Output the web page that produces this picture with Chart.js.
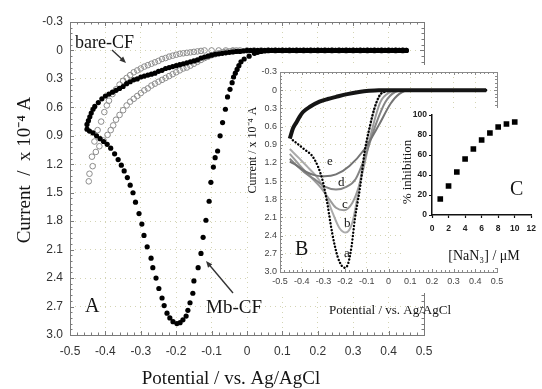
<!doctype html>
<html lang="en">
  <head>
    <meta charset="utf-8">
    <script src="https://cdn.jsdelivr.net/npm/chart.js@4.4.1/dist/chart.umd.min.js"></script>
    <title>Mb-CF voltammetry</title>
    <style>
      body { margin: 0; background: #fff; }
      #wrap { position: relative; width: 542px; height: 389px; }
      canvas { position: absolute; }
    </style>
  </head>
  <body>
    <div id="wrap">
      <canvas id="chartA" width="542" height="389" style="left:0;top:0"></canvas>
      <canvas id="chartB" width="270" height="256" style="left:240px;top:62px"></canvas>
      <canvas id="chartC" width="147" height="168" style="left:395px;top:100px"></canvas>
    </div>

  <script>

    // ---- tick values
    const potTicks = [-0.5, -0.4, -0.3, -0.2, -0.1, 0, 0.1, 0.2, 0.3, 0.4, 0.5];
    const currTicks = [-0.3, 0, 0.3, 0.6, 0.9, 1.2, 1.5, 1.8, 2.1, 2.4, 2.7, 3.0];
    const concTicks = [0, 2, 4, 6, 8, 10, 12];
    const inhibTicks = [0, 20, 40, 60, 80, 100];

    // ---- panel A : Mb-CF cathodic sweep (filled dots)
    const mbPotential = [0.45,0.44,0.43,0.42,0.41,0.40,0.39,0.38,0.37,0.36,0.35,0.34,0.33,0.32,0.31,0.30,0.29,0.28,0.27,0.26,
      0.25,0.24,0.23,0.22,0.21,0.20,0.19,0.18,0.17,0.16,0.15,0.14,0.13,0.12,0.11,0.10,0.09,0.08,0.07,0.06,
      0.05,0.04,0.03,0.021,0.006,-0.008,-0.017,-0.023,-0.028,-0.033,-0.038,-0.042,-0.048,-0.055,-0.061,-0.069,-0.076,-0.083,-0.090,-0.095,
      -0.102,-0.107,-0.116,-0.124,-0.130,-0.138,-0.150,-0.153,-0.161,-0.167,-0.172,-0.181,-0.189,-0.198,-0.209,-0.218,-0.226,-0.234,-0.240,-0.249,
      -0.257,-0.266,-0.271,-0.282,-0.291,-0.297,-0.305,-0.315,-0.322,-0.330,-0.338,-0.347,-0.355,-0.364,-0.374,-0.385,-0.395,-0.405,-0.415,-0.425,
      -0.435,-0.445,-0.452];
    const mbCurrent = [0,0,0,0,0,0,0,0,0,0,0,0,0,0,0,0,0,0,0,0,
      0,0,0,0,0,0,0,0,0,0,0,0,0,0,0,0,0,0,0,0,
      0.005,0.01,0.02,0.03,0.06,0.09,0.12,0.16,0.20,0.24,0.28,0.34,0.41,0.49,0.62,0.76,0.90,1.06,1.13,1.23,
      1.39,1.59,1.79,1.97,2.14,2.29,2.43,2.56,2.66,2.74,2.80,2.84,2.87,2.88,2.86,2.82,2.77,2.69,2.61,2.51,
      2.40,2.29,2.19,2.07,1.95,1.83,1.72,1.60,1.50,1.42,1.34,1.27,1.21,1.15,1.09,1.03,0.99,0.96,0.93,0.90,
      0.87,0.85,0.83];

    // ---- panel A : return sweep (filled dots)
    const mbReturnPotential = [-0.452,-0.448,-0.444,-0.44,-0.435,-0.43,-0.42,-0.41,-0.40,-0.39,-0.38,-0.37,-0.36,-0.35,-0.34,-0.33,-0.32,-0.31,-0.30,-0.29,
      -0.28,-0.27,-0.26,-0.25,-0.24,-0.23,-0.22,-0.21,-0.20,-0.19,-0.18,-0.17,-0.16,-0.15,-0.14,-0.13,-0.12,-0.11,-0.10,-0.09,
      -0.08,-0.07,-0.06,-0.05,-0.04,-0.03,-0.02,-0.01,0,0.01,0.02,0.03,0.04,0.05,0.06,0.07,0.08,0.09,0.10,0.11,
      0.12,0.13,0.14,0.15,0.16,0.17,0.18,0.19,0.20,0.21,0.22,0.23,0.24,0.25,0.26,0.27,0.28,0.29,0.30,0.31,
      0.32,0.33,0.34,0.35,0.36,0.37,0.38,0.39,0.40,0.41,0.42,0.43,0.44,0.45];
    const mbReturnCurrent = [0.78,0.74,0.70,0.66,0.62,0.59,0.55,0.51,0.48,0.46,0.44,0.42,0.40,0.38,0.35,0.33,0.31,0.30,0.28,0.27,
      0.26,0.25,0.24,0.22,0.21,0.19,0.18,0.17,0.16,0.15,0.14,0.13,0.12,0.11,0.10,0.08,0.07,0.06,0.05,0.04,
      0.035,0.03,0.025,0.02,0.015,0.01,0.01,0.005,0,0,0,0,0,0,0,0,0,0,0,0,
      0,0,0,0,0,0,0,0,0,0,0,0,0,0,0,0,0,0,0,0,
      0,0,0,0,0,0,0,0,0,0,0,0,0,0];

    // ---- panel A : bare-CF (open circles), upper trail then lower trail
    const barePotential = [-0.447,-0.445,-0.438,-0.431,-0.422,-0.412,-0.403,-0.396,-0.39,-0.38,-0.37,-0.36,-0.35,-0.34,-0.33,-0.32,-0.31,-0.30,-0.29,-0.28,
      -0.27,-0.26,-0.25,-0.24,-0.23,-0.22,-0.21,-0.20,-0.19,-0.18,-0.17,-0.16,-0.15,-0.14,-0.13,-0.12,-0.10,-0.08,-0.06,-0.04,
      -0.02,0,0.02,0.04,0.06,0.08,0.10,0.12,0.14,0.16,0.18,0.20,0.22,0.24,0.26,0.28,0.30,0.32,0.34,0.36,
      0.38,0.40,0.42,0.44,
      -0.436,-0.427,-0.417,-0.405,-0.394,-0.385,-0.378,-0.37,-0.36,-0.35,-0.34,-0.33,-0.32,-0.31,-0.30,-0.29,-0.28,-0.27,-0.26,-0.25,
      -0.24,-0.23,-0.22,-0.21,-0.20,-0.19,-0.18,-0.17,-0.16,-0.15,-0.14,-0.13,-0.12,-0.11,-0.10,-0.09,-0.08,-0.07,-0.06,-0.05,
      -0.04,-0.03];
    const bareCurrent = [1.38,1.30,1.12,0.96,0.84,0.75,0.65,0.58,0.53,0.46,0.41,0.36,0.32,0.29,0.26,0.23,0.21,0.19,0.17,0.155,
      0.14,0.125,0.11,0.09,0.08,0.065,0.055,0.045,0.035,0.03,0.025,0.02,0.015,0.01,0.005,0,0,0,0,0,
      0,0,0,0,0,0,0,0,0,0,0,0,0,0,0,0,0,0,0,0,
      0,0,0,0,
      1.22,1.07,1.01,0.95,0.89,0.84,0.79,0.73,0.68,0.63,0.58,0.54,0.51,0.48,0.45,0.42,0.40,0.37,0.35,0.33,
      0.31,0.29,0.27,0.25,0.23,0.21,0.19,0.18,0.16,0.14,0.12,0.10,0.08,0.065,0.05,0.04,0.03,0.02,0.015,0.01,
      0.005,0];

    // ---- panel B : cathodic sweeps a-e and the shared return sweep
    const aPotential = [0.45,0.30,0.15,0.05,0.02,-0.01,-0.04,-0.065,-0.085,-0.11,-0.13,-0.155,-0.17,-0.185,-0.20,-0.215,-0.235,-0.26,-0.283,-0.306,-0.343,-0.39,-0.45];
    const aCurrent = [0,0,0,0,0,0.02,0.08,0.30,0.58,1.02,1.58,2.13,2.57,2.85,2.93,2.90,2.74,2.35,1.85,1.46,1.13,0.97,0.80];
    const bPotential = [0.45,0.20,0.05,0.015,-0.023,-0.06,-0.09,-0.121,-0.145,-0.167,-0.197,-0.227,-0.258,-0.288,-0.318,-0.364,-0.41,-0.455];
    const bCurrent = [0,0,0,0,0.03,0.25,0.69,1.30,1.80,2.19,2.35,2.27,2.02,1.74,1.49,1.30,1.13,0.97];
    const cPotential = [0.45,0.20,0.045,0.008,-0.038,-0.075,-0.106,-0.136,-0.167,-0.205,-0.242,-0.273,-0.311,-0.348,-0.394,-0.455];
    const cCurrent = [0,0,0,0.03,0.20,0.64,1.14,1.58,1.86,1.98,1.94,1.80,1.61,1.47,1.30,1.05];
    const dPotential = [0.45,0.20,0.076,0.03,-0.015,-0.06,-0.106,-0.152,-0.197,-0.242,-0.288,-0.333,-0.379,-0.424,-0.455];
    const dCurrent = [0,0,0,0.03,0.20,0.58,1.08,1.47,1.60,1.64,1.60,1.49,1.38,1.24,1.13];
    const ePotential = [0.45,0.20,0.10,0.05,0.01,-0.045,-0.11,-0.18,-0.242,-0.295,-0.333,-0.379,-0.424,-0.455];
    const eCurrent = [0,0,0,0.06,0.22,0.58,0.97,1.25,1.39,1.42,1.41,1.35,1.24,1.18];
    const retPotential = [-0.455,-0.44,-0.424,-0.41,-0.394,-0.36,-0.318,-0.28,-0.242,-0.19,-0.136,-0.09,-0.045,0,0.45];
    const retCurrent = [0.80,0.63,0.53,0.44,0.36,0.27,0.19,0.145,0.11,0.065,0.03,0.01,0,0,0];

    // ---- panel C : inhibition vs azide
    const azideConc = [1, 2, 3, 4, 5, 6, 7, 8, 9, 10];
    const inhibition = [16, 29, 43, 56, 66, 75, 82, 88, 91, 93];

    const SERIF = "'Liberation Serif', 'Times New Roman', serif";
    const SANS = "'Liberation Sans', Arial, sans-serif";
    const GRID = '#d4d4b4';

    const pts = (xs, ys) => xs.map((x, i) => ({x: x, y: ys[i]}));
    const fmt = v => v === 0 ? '0' : Number(v).toFixed(1);

    // white backing of a pasted inset
    function whiteBox(id, x, y, w, h) {
      return { id, beforeDraw(chart) {
        const ctx = chart.ctx;
        ctx.save(); ctx.fillStyle = '#fff'; ctx.fillRect(x, y, w, h); ctx.restore();
      }};
    }

    // box frame with inward major/minor ticks on all four sides
    function frame(id, o) {
      return { id, afterDatasetsDraw(chart) {
        const {ctx, chartArea: a, scales: {x, y}} = chart;
        ctx.save();
        ctx.strokeStyle = o.color; ctx.lineWidth = 1;
        ctx.strokeRect(Math.round(a.left) + 0.5, Math.round(a.top) + 0.5, Math.round(a.right - a.left), Math.round(a.bottom - a.top));
        ctx.beginPath();
        const nx = Math.round((x.max - x.min) / o.minorX);
        for (let i = 0; i <= nx; i++) {
          const p = Math.round(x.getPixelForValue(x.min + i * o.minorX)) + 0.5;
          const L = i % 5 === 0 ? o.major : o.minor;
          ctx.moveTo(p, a.bottom); ctx.lineTo(p, a.bottom - L);
          ctx.moveTo(p, a.top); ctx.lineTo(p, a.top + L);
        }
        const ny = Math.round((y.max - y.min) / o.minorY);
        for (let i = 0; i <= ny; i++) {
          const p = Math.round(y.getPixelForValue(y.min + i * o.minorY)) + 0.5;
          const L = i % 5 === 0 ? o.major : o.minor;
          ctx.moveTo(a.left, p); ctx.lineTo(a.left + L, p);
          ctx.moveTo(a.right, p); ctx.lineTo(a.right - L, p);
        }
        ctx.stroke();
        ctx.restore();
      }};
    }

    // free texts and arrows
    function notes(id, texts, arrows) {
      return { id, afterDraw(chart) {
        const ctx = chart.ctx;
        texts.forEach(t => {
          ctx.save();
          ctx.font = t.font; ctx.fillStyle = t.color || '#151515';
          ctx.textAlign = t.align || 'left'; ctx.textBaseline = t.base || 'alphabetic';
          ctx.translate(t.x, t.y);
          if (t.rot) ctx.rotate(t.rot);
          ctx.fillText(t.text, 0, 0);
          ctx.restore();
        });
        (arrows || []).forEach(r => {
          const ang = Math.atan2(r.y2 - r.y1, r.x2 - r.x1);
          ctx.save();
          ctx.strokeStyle = '#333'; ctx.fillStyle = '#333'; ctx.lineWidth = 1.4;
          ctx.beginPath(); ctx.moveTo(r.x1, r.y1); ctx.lineTo(r.x2 - 4 * Math.cos(ang), r.y2 - 4 * Math.sin(ang)); ctx.stroke();
          ctx.beginPath();
          ctx.moveTo(r.x2, r.y2);
          ctx.lineTo(r.x2 - 7 * Math.cos(ang - 0.4), r.y2 - 7 * Math.sin(ang - 0.4));
          ctx.lineTo(r.x2 - 7 * Math.cos(ang + 0.4), r.y2 - 7 * Math.sin(ang + 0.4));
          ctx.closePath(); ctx.fill();
          ctx.restore();
        });
      }};
    }

    function cvScales(o) {
      return {
        x: {
          type: 'linear', min: -0.5, max: 0.5,
          afterBuildTicks: s => { s.ticks = potTicks.map(v => ({value: v})); },
          afterFit: s => { s.height = o.xh; },
          ticks: {callback: fmt, font: {family: SANS, size: o.fs}, color: o.tc, padding: o.xp, maxRotation: 0, autoSkip: false},
          grid: {color: GRID, drawTicks: false},
          border: {display: false, dash: [1, 4]}
        },
        y: {
          type: 'linear', min: -0.3, max: 3.0, reverse: true,
          afterBuildTicks: s => { s.ticks = currTicks.map(v => ({value: v})); },
          afterFit: s => { s.width = o.yw; },
          ticks: {callback: fmt, font: {family: SANS, size: o.fs}, color: o.tc, padding: o.yp, autoSkip: false},
          grid: {color: GRID, drawTicks: false},
          border: {display: false, dash: [1, 4]}
        }
      };
    }

    const dot = (data, r, fill, line) => ({
      data, showLine: false, pointRadius: r, pointHoverRadius: r,
      pointBackgroundColor: fill, pointBorderColor: line || fill, pointBorderWidth: line ? 1 : 0
    });

    // ---------- panel A
    new Chart(document.getElementById('chartA'), {
      type: 'scatter',
      data: { datasets: [
        dot(pts(mbPotential, mbCurrent), 2.6, '#000'),
        dot(pts(mbReturnPotential, mbReturnCurrent), 2.6, '#000'),
        dot(pts(barePotential, bareCurrent), 2.8, 'rgba(255,255,255,0)', '#8c8c8c')
      ]},
      options: {
        responsive: false, animation: false,
        layout: {padding: {top: 22, right: 118, left: 0, bottom: 0}},
        plugins: {legend: {display: false}, tooltip: {enabled: false}},
        scales: cvScales({xh: 54, yw: 70, fs: 12, tc: '#333', xp: 9, yp: 7})
      },
      plugins: [
        frame('frameA', {color: '#7a7a7a', minorX: 0.02, minorY: 0.06, major: 4, minor: 2.5}),
        notes('notesA', [
          {text: 'Current  /  x 10\u207B\u2074 A', x: 25, y: 170, rot: -Math.PI / 2, font: '19px ' + SERIF, align: 'center', base: 'middle'},
          {text: 'Potential / vs. Ag/AgCl', x: 231, y: 379, font: '19px ' + SERIF, align: 'center', base: 'middle'},
          {text: 'bare-CF', x: 75, y: 48, font: '18px ' + SERIF},
          {text: 'Mb-CF', x: 206, y: 313, font: '19px ' + SERIF},
          {text: 'A', x: 85, y: 312, font: '20px ' + SERIF}
        ], [
          {x1: 112, y1: 50, x2: 126, y2: 63},
          {x1: 233, y1: 293, x2: 206, y2: 261}
        ])
      ]
    });

    // ---------- panel B (inset)
    const curve = (data, color, width) => ({
      data, showLine: true, pointRadius: 0, borderColor: color, borderWidth: width,
      cubicInterpolationMode: 'monotone', fill: false
    });
    const curveA = curve(pts(aPotential, aCurrent), '#000', 2.4);
    curveA.borderDash = [0.1, 3.3];
    curveA.borderCapStyle = 'round';

    new Chart(document.getElementById('chartB'), {
      type: 'scatter',
      data: { datasets: [
        curve(pts(retPotential, retCurrent), '#151515', 4),
        curveA,
        curve(pts(ePotential, eCurrent), '#747474', 2),
        curve(pts(dPotential, dCurrent), '#858585', 2),
        curve(pts(cPotential, cCurrent), '#9c9c9c', 2),
        curve(pts(bPotential, bCurrent), '#ababab', 2)
      ]},
      options: {
        responsive: false, animation: false,
        layout: {padding: {top: 10, right: 13, left: 0, bottom: 0}},
        plugins: {legend: {display: false}, tooltip: {enabled: false}},
        scales: cvScales({xh: 46, yw: 40, fs: 9, tc: '#444', xp: 4, yp: 3})
      },
      plugins: [
        whiteBox('boxB', 9, 3, 261, 228),
        frame('frameB', {color: '#8a8a8a', minorX: 0.02, minorY: 0.06, major: 3, minor: 2}),
        notes('notesB', [
          {text: 'Current / x 10\u207B\u2074 A', x: 13, y: 88, rot: -Math.PI / 2, font: '12px ' + SERIF, align: 'center', base: 'middle'},
          {text: 'Potential / vs. Ag/AgCl', x: 150, y: 249, font: '13px ' + SERIF, align: 'center', base: 'middle'},
          {text: 'B', x: 55, y: 193, font: '20px ' + SERIF},
          {text: 'e', x: 87, y: 103, font: '13px ' + SERIF},
          {text: 'd', x: 98, y: 124, font: '13px ' + SERIF},
          {text: 'c', x: 102, y: 146, font: '13px ' + SERIF},
          {text: 'b', x: 104, y: 165, font: '13px ' + SERIF},
          {text: 'a', x: 104, y: 195, font: '13px ' + SERIF}
        ])
      ]
    });

    // ---------- panel C (inset)
    const axisC = (vals, min, max, extra) => Object.assign({
      type: 'linear', min, max,
      afterBuildTicks: s => { s.ticks = vals.map(v => ({value: v})); },
      grid: {drawOnChartArea: false, drawTicks: true, tickLength: 3, tickColor: '#111', tickWidth: 1.2},
      border: {color: '#111', width: 1.5}
    }, extra);

    new Chart(document.getElementById('chartC'), {
      type: 'scatter',
      data: { datasets: [{
        data: pts(azideConc, inhibition), pointStyle: 'rect', pointRadius: 4, pointHoverRadius: 4,
        pointBackgroundColor: '#000', pointBorderColor: '#000', pointBorderWidth: 0
      }]},
      options: {
        responsive: false, animation: false,
        layout: {padding: {top: 15, right: 4, left: 0, bottom: 0}},
        plugins: {legend: {display: false}, tooltip: {enabled: false}},
        scales: {
          x: axisC(concTicks, 0, 12, {
            afterFit: s => { s.height = 53; },
            ticks: {font: {family: SANS, size: 8.5, weight: 'bold'}, color: '#222', padding: 6, maxRotation: 0, autoSkip: false}
          }),
          y: axisC(inhibTicks, 0, 100, {
            afterFit: s => { s.width = 37; },
            ticks: {font: {family: SANS, size: 8.5, weight: 'bold'}, color: '#222', padding: 2, autoSkip: false}
          })
        }
      },
      plugins: [
        whiteBox('boxC', 8, 8, 139, 160),
        notes('notesC', [
          {text: '% inhibition', x: 13, y: 72, rot: -Math.PI / 2, font: '13px ' + SERIF, align: 'center', base: 'middle'},
          {text: '[NaN\u2083] / \u03BCM', x: 89, y: 160, font: '14px ' + SERIF, align: 'center'},
          {text: 'C', x: 115, y: 95, font: '20px ' + SERIF}
        ])
      ]
    });

  </script>
  </body>
</html>
